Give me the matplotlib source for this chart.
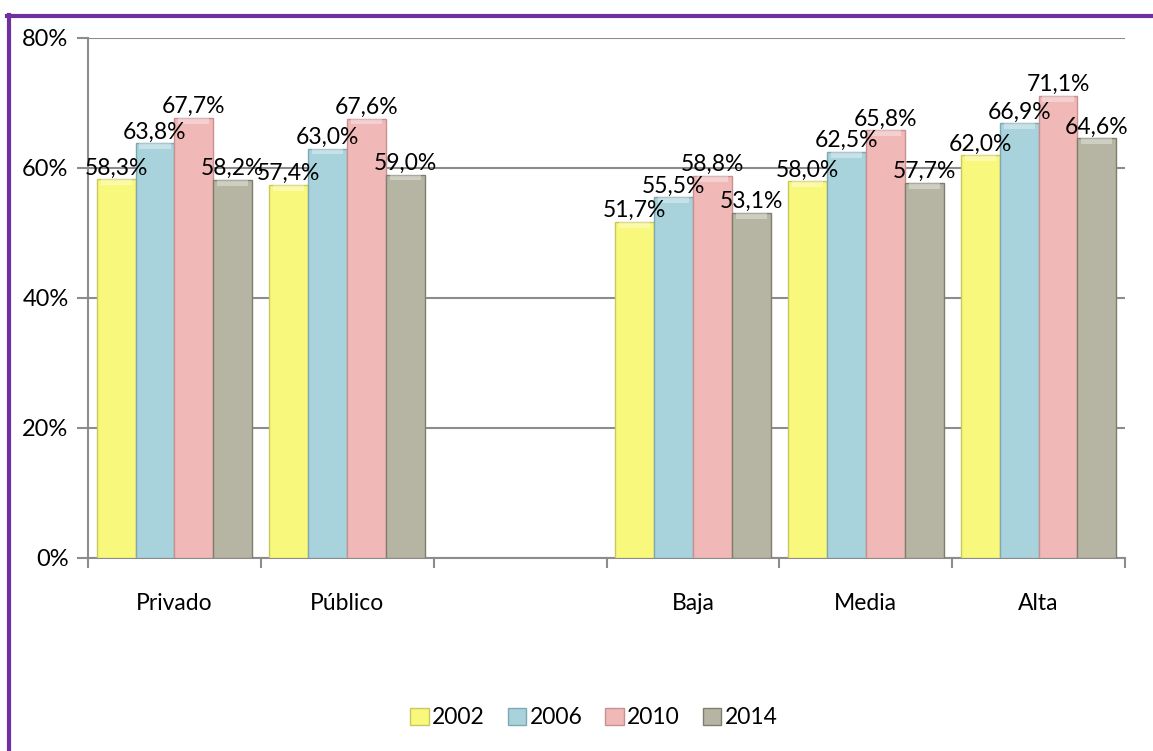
import matplotlib
matplotlib.use("Agg")
import matplotlib.pyplot as plt
from matplotlib.lines import Line2D
from matplotlib.patches import Patch
import numpy as np

# datos
categorias = ["Privado", "Público", "", "Baja", "Media", "Alta"]
anios = ["2002", "2006", "2010", "2014"]
v2002 = [58.3, 57.4, None, 51.7, 58.0, 62.0]
v2006 = [63.8, 63.0, None, 55.5, 62.5, 66.9]
v2010 = [67.7, 67.6, None, 58.8, 65.8, 71.1]
v2014 = [58.2, 59.0, None, 53.1, 57.7, 64.6]
series = [v2002, v2006, v2010, v2014]

colores = ["#F8F87C", "#A8D3DD", "#F1B8B8", "#B6B5A3"]
bordes = ["#C8C860", "#7FA8B2", "#C99090", "#7E7D6E"]

plt.rcParams["font.family"] = ["Lato", "DejaVu Sans"]
fs = 16.5

fig = plt.figure(figsize=(11.53, 7.51), dpi=100)
ax = fig.add_axes([88 / 1153, 1 - 558 / 751, (1125 - 88) / 1153, (558 - 38) / 751])

ancho = 0.225
centros = np.arange(len(categorias)) + 0.5
for i, (valores, anio) in enumerate(zip(series, anios)):
    for j, v in enumerate(valores):
        if v is None:
            continue
        x = centros[j] + (i - 1.5) * ancho
        ax.bar(x, v, width=ancho, color=colores[i], edgecolor=bordes[i],
               linewidth=1.0, zorder=3)
        # brillo superior
        ax.bar(x, 0.9, bottom=v - 0.9, width=ancho * 0.8, color="white",
               alpha=0.35, linewidth=0, zorder=4)
        ax.text(x, v + 0.1, f"{v:.1f}%".replace(".", ","), ha="center",
                va="bottom", fontsize=fs, color="black", zorder=5)

ax.set_xlim(0, 6)
ax.set_ylim(0, 80)
ax.set_yticks([0, 20, 40, 60, 80])
ax.set_yticklabels(["0%", "20%", "40%", "60%", "80%"], fontsize=fs + 0.5)
ax.yaxis.grid(True, color="#8C8C8C", linewidth=1.5, zorder=0)
ax.tick_params(axis="y", length=8, color="#8C8C8C", width=1.5, pad=6)

ax.set_xticks(np.arange(0, 7))
ax.set_xticklabels([])
ax.tick_params(axis="x", which="major", length=7, color="#8C8C8C", width=1.5)
ax.set_xticks([c for c, n in zip(centros, categorias) if n], minor=True)
ax.set_xticklabels([n for n in categorias if n], minor=True, fontsize=fs)
ax.tick_params(axis="x", which="minor", length=0, pad=25)

for s in ["top", "right"]:
    ax.spines[s].set_visible(False)
for s in ["left", "bottom"]:
    ax.spines[s].set_color("#8C8C8C")
    ax.spines[s].set_linewidth(1.5)

# leyenda
handles = [Patch(facecolor=c, edgecolor=b, label=a) for c, b, a in zip(colores, bordes, anios)]
fig.legend(handles=handles, loc="center", bbox_to_anchor=(0.515, 1 - 718 / 751),
           ncol=4, frameon=False, fontsize=fs, handlelength=0.8, handleheight=0.8,
           handletextpad=0.15, columnspacing=1.0)

# borde morado
fig.add_artist(Line2D([8.5 / 1153, 8.5 / 1153], [0, 1 - 15 / 751], color="#7030A0",
                      linewidth=3, transform=fig.transFigure))
fig.add_artist(Line2D([7 / 1153, 1], [1 - 16 / 751, 1 - 16 / 751], color="#7030A0",
                      linewidth=3, transform=fig.transFigure))

fig.savefig("out.png", dpi=100)
